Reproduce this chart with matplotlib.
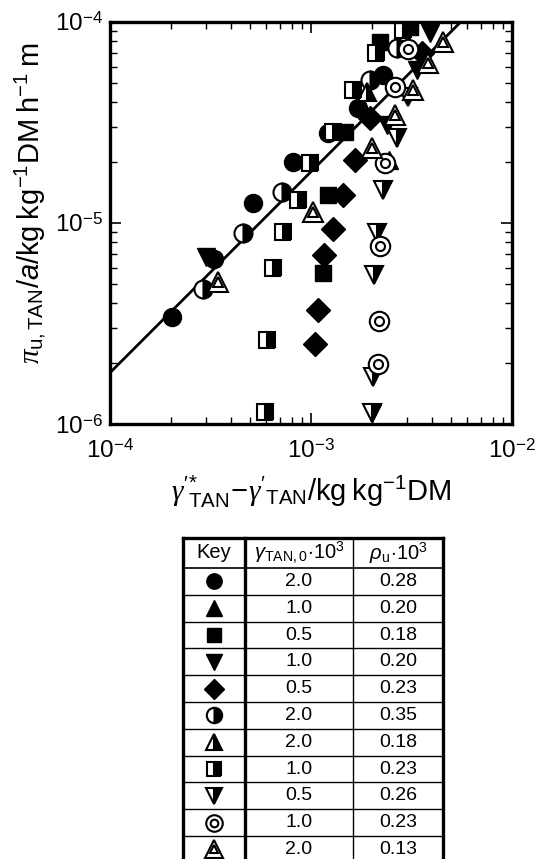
import matplotlib
matplotlib.use('Agg')
import matplotlib.pyplot as plt
import numpy as np

plt.rcParams['font.family'] = ['Liberation Sans', 'DejaVu Sans']
plt.rcParams['mathtext.fontset'] = 'custom'
plt.rcParams['mathtext.rm'] = 'Liberation Sans'
plt.rcParams['mathtext.it'] = 'Liberation Serif:italic'
plt.rcParams['mathtext.sf'] = 'Liberation Sans:italic'

# data (x: kg/kg DM, y: kg/kg DM/h m)
circ_x = [2.03e-4, 3.30e-4, 5.14e-4, 8.13e-4, 1.22e-3, 1.71e-3, 2.28e-3]
circ_y = [3.41e-6, 6.60e-6, 1.26e-5, 2.01e-5, 2.81e-5, 3.73e-5, 5.45e-5]
triup_x = [2.45e-3]
triup_y = [2.05e-5]
sq_x = [1.15e-3, 1.22e-3, 1.48e-3, 2.20e-3, 3.11e-3]
sq_y = [5.64e-6, 1.38e-5, 2.84e-5, 7.95e-5, 9.44e-5]
tridn_x = [3.00e-4, 2.01e-3, 2.39e-3, 3.37e-3, 3.91e-3]
tridn_y = [6.80e-6, 1.13e-6, 3.07e-5, 5.77e-5, 8.81e-5]
diam_x = [1.05e-3, 1.08e-3, 1.16e-3, 1.29e-3, 1.44e-3, 1.66e-3, 1.97e-3, 3.57e-3]
diam_y = [2.50e-6, 3.69e-6, 6.93e-6, 9.33e-6, 1.38e-5, 2.06e-5, 3.33e-5, 7.01e-5]
hcirc_x = [2.90e-4, 4.59e-4, 7.17e-4, 1.97e-3, 2.68e-3]
hcirc_y = [4.69e-6, 8.92e-6, 1.43e-5, 5.15e-5, 7.43e-5]
htriup_x = [1.9e-3]
htriup_y = [4.5e-5]
hsq_x = [5.90e-4, 6.04e-4, 6.47e-4, 7.26e-4, 8.61e-4, 9.89e-4, 1.29e-3, 1.62e-3, 2.11e-3, 2.87e-3]
hsq_y = [1.15e-6, 2.62e-6, 5.97e-6, 9.02e-6, 1.30e-5, 1.99e-5, 2.84e-5, 4.59e-5, 7.01e-5, 9.12e-5]
htridn_x = [2.01e-3, 2.03e-3, 2.06e-3, 2.13e-3, 2.28e-3, 2.68e-3, 3.04e-3]
htridn_y = [1.13e-6, 1.71e-6, 5.51e-6, 8.92e-6, 1.46e-5, 2.65e-5, 4.24e-5]
bull_x = [2.15e-3, 2.18e-3, 2.20e-3, 2.33e-3, 2.62e-3, 3.04e-3]
bull_y = [1.99e-6, 3.25e-6, 7.69e-6, 1.99e-5, 4.75e-5, 7.34e-5]
dtri_x = [3.45e-4, 1.02e-3, 2.01e-3, 2.62e-3, 3.22e-3, 3.82e-3, 4.54e-3]
dtri_y = [5.09e-6, 1.13e-5, 2.36e-5, 3.44e-5, 4.59e-5, 6.25e-5, 7.95e-5]

# fitted line y = fit_a * x
fit_a = 0.018
fit_x = [1e-4, 1e-4 / fit_a]

gamma0 = ['2.0', '1.0', '0.5', '1.0', '0.5', '2.0', '2.0', '1.0', '0.5', '1.0', '2.0']
rho_u = ['0.28', '0.20', '0.18', '0.20', '0.23', '0.35', '0.18', '0.23', '0.26', '0.23', '0.13']

series = [
    (circ_x, circ_y, 'o', 'full'),
    (triup_x, triup_y, '^', 'full'),
    (sq_x, sq_y, 's', 'full'),
    (tridn_x, tridn_y, 'v', 'full'),
    (diam_x, diam_y, 'D', 'full'),
    (hcirc_x, hcirc_y, 'o', 'right'),
    (htriup_x, htriup_y, '^', 'right'),
    (hsq_x, hsq_y, 's', 'right'),
    (htridn_x, htridn_y, 'v', 'right'),
    (bull_x, bull_y, 'bull', None),
    (dtri_x, dtri_y, 'dtri', None),
]

sizes = {'o': 13, '^': 13, 's': 12, 'v': 13, 'D': 12}


def draw_marker(ax, x, y, mk, fill, scale=1.0, **kw):
    if mk == 'bull':
        ax.plot(x, y, 'o', ms=14 * scale, mfc='white', mec='black', mew=1.5, ls='none', **kw)
        ax.plot(x, y, 'o', ms=6.5 * scale, mfc='white', mec='black', mew=1.5, ls='none', **kw)
    elif mk == 'dtri':
        ax.plot(x, y, '^', ms=15 * scale, mfc='white', mec='black', mew=1.5, ls='none', **kw)
        ax.plot(x, y, '^', ms=7 * scale, mfc='white', mec='black', mew=1.5, ls='none', **kw)
    elif fill == 'right':
        ax.plot(x, y, mk, ms=sizes[mk] * scale, fillstyle='right', mfc='black',
                mfcalt='white', mec='black', mew=1.5, ls='none', **kw)
    else:
        ax.plot(x, y, mk, ms=sizes[mk] * scale, mfc='black', mec='black', ls='none', **kw)


fig = plt.figure(figsize=(5.52, 8.59), dpi=100)
ax = fig.add_axes([110 / 552, 1 - 424 / 859, 402 / 552, 402 / 859])

for xs, ys, mk, fill in series:
    draw_marker(ax, xs, ys, mk, fill)

fx = np.array(fit_x)
ax.plot(fx, fit_a * fx, color='black', lw=2.0, zorder=1)

ax.set_xscale('log')
ax.set_yscale('log')
ax.set_xlim(1e-4, 1e-2)
ax.set_ylim(1e-6, 1e-4)
ax.set_xticks([1e-4, 1e-3, 1e-2])
ax.set_xticklabels([r'$10^{-4}$', r'$10^{-3}$', r'$10^{-2}$'])
ax.set_yticks([1e-6, 1e-5, 1e-4])
ax.set_yticklabels([r'$10^{-6}$', r'$10^{-5}$', r'$10^{-4}$'])
ax.tick_params(which='both', direction='in', top=True, right=True, labelsize=17.5)
ax.tick_params(axis='x', which='major', pad=11)
ax.tick_params(axis='y', which='major', pad=5)
ax.tick_params(which='major', length=8, width=1.2)
ax.tick_params(which='minor', length=5, width=1.0)
for sp in ax.spines.values():
    sp.set_linewidth(2.4)

ax.set_xlabel(r"$\gamma'^{*}_{\mathrm{TAN}}\!-\!\gamma'_{\mathrm{TAN}}\mathrm{/kg\;kg^{-1}DM}$",
              fontsize=21, labelpad=8)
ax.set_ylabel(r"$\pi_{\mathrm{u,TAN}}/\mathsf{a}\mathrm{/kg\;kg^{-1}DM\;h^{-1}\;m}$",
              fontsize=21)
ax.yaxis.set_label_coords(-0.155, 0.55)

# key table
tb = fig.add_axes([0, 0, 1, 1])
tb.set_xlim(0, 552)
tb.set_ylim(859, 0)
tb.axis('off')
left, c1, c2, right = 183, 245, 353, 443
top, head_bot, row_h = 538, 568, 26.8
n = len(gamma0)
bottom = head_bot + n * row_h
tb.plot([left, right], [top, top], color='black', lw=2.4)
tb.plot([left, left], [top, bottom], color='black', lw=2.4)
tb.plot([right, right], [top, bottom], color='black', lw=2.4)
tb.plot([c1, c1], [top, bottom], color='black', lw=2.4)
tb.plot([c2, c2], [top, bottom], color='black', lw=1.0)
tb.plot([left, right], [head_bot, head_bot], color='black', lw=1.2)
for i in range(1, n):
    yl = head_bot + i * row_h
    tb.plot([left, right], [yl, yl], color='black', lw=1.0)

ym = (top + head_bot) / 2
tb.text((left + c1) / 2, ym, 'Key', ha='center', va='center', fontsize=14.5)
tb.text((c1 + c2) / 2, ym, r'$\mathsf{\gamma}_{\mathrm{TAN,0}}\!\cdot\!10^{3}$',
        ha='center', va='center', fontsize=14.5)
tb.text((c2 + right) / 2, ym, r'$\mathsf{\rho}_{\mathrm{u}}\!\cdot\!10^{3}$',
        ha='center', va='center', fontsize=14.5)

for i, (xs, ys, mk, fill) in enumerate(series):
    yc = head_bot + (i + 0.5) * row_h
    draw_marker(tb, [(left + c1) / 2], [yc], mk, fill, scale=0.85)
    tb.text((c1 + c2) / 2, yc, gamma0[i], ha='center', va='center', fontsize=14)
    tb.text((c2 + right) / 2, yc, rho_u[i], ha='center', va='center', fontsize=14)

fig.savefig('out.png', dpi=100)
